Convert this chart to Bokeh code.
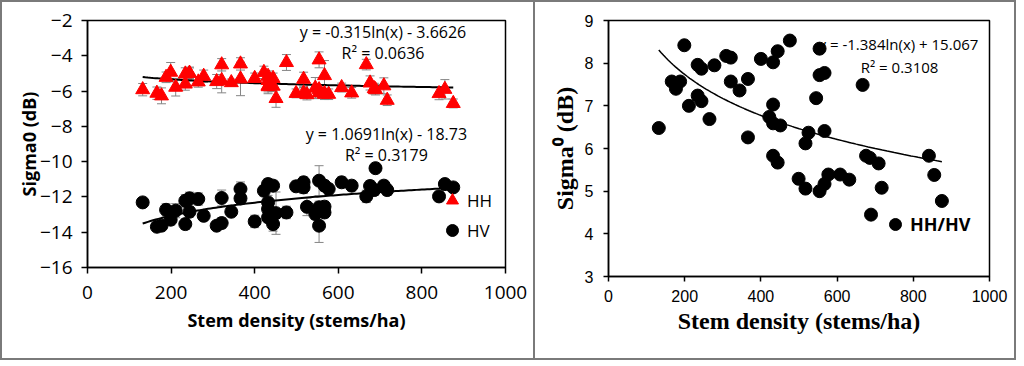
from bokeh.plotting import figure
from bokeh.models import (ColumnDataSource, Whisker, TeeHead, Legend, LegendItem,
                          Label, FixedTicker, Range1d)
from bokeh.layouts import row, column
from bokeh.embed import file_html
from bokeh.resources import INLINE
import numpy as np

# ---------------- data ----------------
density = [132, 166, 177, 188, 199, 211, 234, 234, 244, 244,
           265, 278, 309, 321, 321, 344, 366, 366, 400, 422,
           432, 432, 432, 432, 444, 444, 451, 476, 499, 517,
           517, 525, 545, 554, 554, 554, 567, 567, 567, 577,
           608, 632, 667, 676, 686, 689, 709, 717, 841, 855, 875]

hh = [-5.92, -6.12, -6.27, -5.22, -4.93, -5.78, -5.60, -5.03, -4.99, -4.99,
      -5.48, -5.16, -5.46, -5.40, -4.51, -5.52, -4.46, -5.31, -5.28, -4.94,
      -5.16, -5.70, -5.75, -5.40, -5.28, -5.72, -6.42, -4.38, -6.13, -5.33,
      -6.10, -6.20, -5.83, -4.23, -5.92, -6.10, -5.12, -6.14, -6.18, -6.18,
      -5.80, -6.10, -4.50, -5.54, -5.86, -5.92, -5.70, -6.52, -6.14, -5.90, -6.70]

hh_err = [0.35, 0.35, 0.45, 0.30, 0.55, 0.50, 0.35, 0.35, 0.35, 0.30,
          0.30, 0.35, 0.40, 0.70, 0.35, 0.20, 0.35, 0.95, 0.30, 0.35,
          0.30, 0.45, 0.30, 0.30, 0.30, 0.30, 0.50, 0.45, 0.25, 0.40,
          0.30, 0.30, 0.60, 0.45, 0.20, 0.30, 0.85, 0.30, 0.30, 0.30,
          0.25, 0.30, 0.30, 0.40, 0.30, 0.30, 0.45, 0.30, 0.35, 0.55, 0.25]

hv = [-12.31, -13.69, -13.63, -12.73, -13.29, -12.78, -13.54, -12.22, -12.84, -12.08,
      -12.12, -13.07, -13.63, -13.48, -12.06, -12.84, -12.08, -11.55, -13.39, -11.65,
      -13.16, -12.69, -12.31, -11.27, -13.54, -11.36, -12.92, -12.88, -11.40, -11.46,
      -11.17, -12.56, -12.97, -12.59, -13.63, -11.08, -12.88, -12.55, -11.36, -11.55,
      -11.17, -11.36, -11.97, -11.38, -11.61, -10.37, -11.36, -11.61, -11.97, -11.27, -11.46]

hv_err = [0.10, 0.15, 0.15, 0.35, 0.30, 0.40, 0.30, 0.35, 0.30, 0.35,
          0.35, 0.20, 0.20, 0.30, 0.45, 0.25, 0.35, 0.40, 0.35, 0.30,
          0.30, 0.30, 0.40, 0.30, 0.40, 0.30, 1.20, 0.35, 0.30, 0.35,
          0.30, 0.50, 0.30, 0.35, 0.95, 0.85, 0.30, 0.30, 0.30, 0.30,
          0.30, 0.30, 0.35, 0.30, 0.30, 0.20, 0.30, 0.30, 0.30, 0.20, 0.20]

ratio = [6.48, 7.57, 7.40, 7.57, 8.42, 7.00, 7.96, 7.24, 7.87, 7.11,
         6.69, 7.95, 8.17, 8.13, 7.57, 7.36, 7.63, 6.26, 8.10, 6.74,
         8.02, 7.03, 6.59, 5.83, 8.28, 5.67, 6.54, 8.53, 5.29, 6.12,
         5.06, 6.37, 7.18, 8.34, 7.72, 5.00, 7.77, 6.41, 5.17, 5.39,
         5.39, 5.27, 7.49, 5.83, 5.78, 4.45, 5.65, 5.08, 5.83, 5.38, 4.77]

# log trendline coefficients shown on the chart: y = a*ln(x) + b
hh_fit = (-0.315, -3.6626)
hv_fit = (1.0691, -18.73)
ratio_fit = (-1.384, 15.067)

hh_eq = ["y = -0.315ln(x) - 3.6626", "R\u00b2 = 0.0636"]
hv_eq = ["y = 1.0691ln(x) - 18.73", "R\u00b2 = 0.3179"]
ratio_eq = ["y = -1.384ln(x) + 15.067", "R\u00b2 = 0.3108"]

x_ticks = [0, 200, 400, 600, 800, 1000]
y1_ticks = [-16, -14, -12, -10, -8, -6, -4, -2]
y2_ticks = [3, 4, 5, 6, 7, 8, 9]

SANS = "Open Sans"
GRAY = "#858585"
FRAME_GRAY = "#7a7a7a"


def base_axes(p, tick_font, tick_size, lab_font, lab_size, tick_out):
    for ax in (p.xaxis[0], p.yaxis[0]):
        ax.major_label_text_font = tick_font
        ax.major_label_text_font_size = tick_size
        ax.major_label_text_color = "black"
        ax.axis_label_text_font = lab_font
        ax.axis_label_text_font_size = lab_size
        ax.axis_label_text_font_style = "bold"
        ax.axis_label_text_color = "black"
        ax.axis_line_color = "black"
        ax.axis_line_width = 1.5
        ax.major_tick_line_color = "black"
        ax.major_tick_line_width = 1.5
        ax.major_tick_out = tick_out
        ax.major_tick_in = 0
        ax.minor_tick_line_color = None
    p.xgrid.grid_line_color = None
    p.ygrid.grid_line_color = None
    p.outline_line_color = "black"
    p.outline_line_width = 1.5
    p.background_fill_color = "white"
    p.border_fill_color = "white"


# ---------------- left panel ----------------
p1 = figure(width=533, height=360, x_range=Range1d(0, 1000), y_range=Range1d(-16, -2),
            output_backend="svg", toolbar_location=None,
            min_border_left=85, min_border_right=30, min_border_top=18, min_border_bottom=95)
p1.styles = {"border-left": "2px solid " + FRAME_GRAY,
             "border-top": "2px solid " + FRAME_GRAY,
             "border-bottom": "2px solid " + FRAME_GRAY}
base_axes(p1, SANS, "19px", SANS, "18px", 6)
p1.xaxis[0].ticker = FixedTicker(ticks=x_ticks)
p1.yaxis[0].ticker = FixedTicker(ticks=y1_ticks)
p1.xaxis[0].axis_label = "Stem density (stems/ha)"
p1.yaxis[0].axis_label = "Sigma0 (dB)"
p1.xaxis[0].major_label_standoff = 12
p1.yaxis[0].major_label_standoff = 9
p1.xaxis[0].axis_label_standoff = 6
p1.yaxis[0].axis_label_standoff = -4

src_hh = ColumnDataSource(dict(x=density, y=hh,
                               lo=[a - b for a, b in zip(hh, hh_err)],
                               up=[a + b for a, b in zip(hh, hh_err)]))
src_hv = ColumnDataSource(dict(x=density, y=hv,
                               lo=[a - b for a, b in zip(hv, hv_err)],
                               up=[a + b for a, b in zip(hv, hv_err)]))

for src in (src_hh, src_hv):
    w = Whisker(source=src, base="x", upper="up", lower="lo",
                line_color=GRAY, line_width=1,
                upper_head=TeeHead(size=9, line_color=GRAY, line_width=1),
                lower_head=TeeHead(size=9, line_color=GRAY, line_width=1))
    p1.add_layout(w)

xs = np.linspace(min(density), max(density), 120)
p1.line(xs, hh_fit[0] * np.log(xs) + hh_fit[1], line_color="black", line_width=2)
p1.line(xs, hv_fit[0] * np.log(xs) + hv_fit[1], line_color="black", line_width=2)

r_hh = p1.scatter("x", "y", source=src_hh, marker="triangle", size=14,
                  fill_color="#ff0000", line_color="#ff0000")
r_hv = p1.scatter("x", "y", source=src_hv, marker="circle", size=13,
                  fill_color="black", line_color="black")

for txt, (xx, yy) in zip(hh_eq + hv_eq, [(707, -2.68), (707, -3.87), (715, -8.41), (715, -9.60)]):
    p1.add_layout(Label(x=xx, y=yy, text=txt, text_align="center", text_baseline="middle",
                        text_font=SANS, text_font_size="16px", text_color="black"))

leg1 = Legend(items=[LegendItem(label="HH", renderers=[r_hh]),
                     LegendItem(label="HV", renderers=[r_hv])],
              location=(350, 22), padding=0, margin=0, spacing=0,
              glyph_width=30, glyph_height=30, label_height=30, label_standoff=-4,
              label_text_font=SANS, label_text_font_size="17px", label_text_color="black",
              border_line_color=None, background_fill_alpha=0)
p1.add_layout(leg1)

# ---------------- right panel ----------------
p2 = figure(width=483, height=360, x_range=Range1d(0, 1000), y_range=Range1d(3, 9),
            output_backend="svg", toolbar_location=None,
            min_border_left=73, min_border_right=29, min_border_top=18, min_border_bottom=86)
p2.styles = {"border": "2px solid " + FRAME_GRAY}
base_axes(p2, "Liberation Sans", "16px", "Liberation Serif", "24px", 5)
p2.xaxis[0].ticker = FixedTicker(ticks=x_ticks)
p2.yaxis[0].ticker = FixedTicker(ticks=y2_ticks)
p2.xaxis[0].axis_label = "Stem density (stems/ha)"
p2.yaxis[0].axis_label = "Sigma\u2070 (dB)"
p2.xaxis[0].major_label_standoff = 8
p2.yaxis[0].major_label_standoff = 10
p2.xaxis[0].axis_label_standoff = 3
p2.yaxis[0].axis_label_standoff = 4

p2.line(xs, ratio_fit[0] * np.log(xs) + ratio_fit[1], line_color="black", line_width=1.5)
r_ratio = p2.scatter(density, ratio, marker="circle", size=13,
                     fill_color="black", line_color="black")

for txt, (xx, yy) in zip(ratio_eq, [(761, 8.44), (764, 7.92)]):
    p2.add_layout(Label(x=xx, y=yy, text=txt, text_align="center", text_baseline="middle",
                        text_font=SANS, text_font_size="15px", text_color="black"))

leg2 = Legend(items=[LegendItem(label="HH/HV", renderers=[r_ratio])],
              location=(272, 37), padding=0, margin=0,
              glyph_width=30, glyph_height=30, label_height=30, label_standoff=-2,
              label_text_font=SANS, label_text_font_size="18px", label_text_color="black",
              label_text_font_style="bold",
              border_line_color=None, background_fill_alpha=0)
p2.add_layout(leg2)

layout = row(column(p1), column(p2))
open("out.html", "w").write(file_html(layout, INLINE))
